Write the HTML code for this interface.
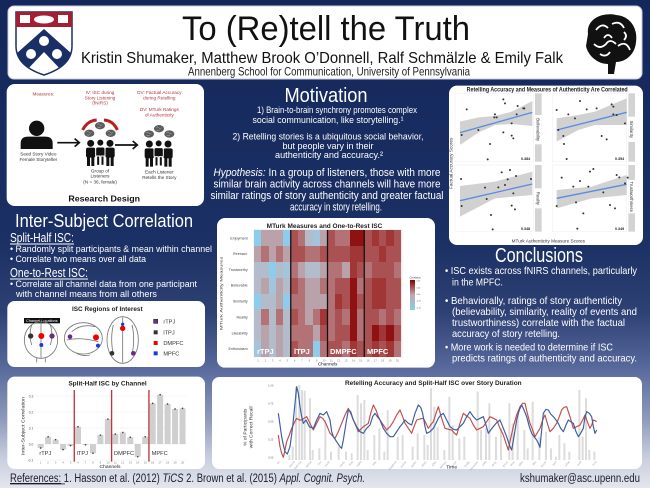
<!DOCTYPE html>
<html><head><meta charset="utf-8">
<style>
html,body{margin:0;padding:0;}
body{width:650px;height:488px;position:relative;overflow:hidden;font-family:"Liberation Sans",sans-serif;background:#13275b;}
svg{position:absolute;left:0;top:0;}
.hm{position:absolute;left:254px;top:230px;width:147px;height:127px;display:grid;grid-template-columns:repeat(20,1fr);grid-template-rows:repeat(8,1fr);}
.hm i{display:block;}
.c0{background:#8fcbea}.c1{background:#a4c4dc}.c2{background:#b2bccb}.c3{background:#b9a2aa}
.c4{background:#b37276}.c5{background:#aa5253}.c6{background:#a03636}.c7{background:#8e1212}
</style></head><body>
<svg width="650" height="488" viewBox="0 0 650 488" font-family="Liberation Sans, sans-serif">
<defs>
<linearGradient id="bg" x1="0" y1="0" x2="0" y2="1">
<stop offset="0" stop-color="#13275b"/><stop offset="0.5" stop-color="#1b3064"/><stop offset="0.64" stop-color="#2e4175"/>
<stop offset="0.75" stop-color="#56679a"/><stop offset="0.86" stop-color="#8f9bbb"/><stop offset="0.94" stop-color="#c9cfdd"/><stop offset="1" stop-color="#e3e6ee"/>
</linearGradient>
<linearGradient id="cb" x1="0" y1="0" x2="0" y2="1"><stop offset="0" stop-color="#8b0000"/><stop offset="0.5" stop-color="#c0a8b0"/><stop offset="1" stop-color="#87ceeb"/></linearGradient>
<clipPath id="sh"><path d="M16,12 H72 V46 Q72,66 44,75 Q16,66 16,46 Z"/></clipPath>
<g id="pp"><circle cx="0" cy="0" r="10.5"/><rect x="-14" y="13" width="28" height="30" rx="6"/><rect x="-11" y="40" width="9" height="28"/><rect x="2" y="40" width="9" height="28"/></g>
<g id="bb"><ellipse rx="15" ry="11" fill="#5c5c5c"/><path d="M-9,-3 q4,-5 8,0 q4,5 8,0 M-8,4 q5,3 10,0" stroke="#bbb" stroke-width="1.5" fill="none"/></g>
</defs>
<rect width="650" height="488" fill="url(#bg)"/>

<!-- HEADER -->
<rect x="8" y="6" width="634" height="73" rx="6" fill="#fff" stroke="#c8cedc"/>
<path d="M16,12 H72 V46 Q72,66 44,75 Q16,66 16,46 Z" fill="#fff" stroke="#1a2f66" stroke-width="1.5"/>
<g clip-path="url(#sh)">
<rect x="16" y="12" width="56" height="15" fill="#a31f34"/>
<rect x="20" y="15" width="10" height="8" fill="#fff"/><rect x="58" y="15" width="10" height="8" fill="#fff"/>
<ellipse cx="44" cy="19.5" rx="10" ry="4" fill="#fff"/>
<polygon points="16,54 44,29 72,54 72,66 63,72 44,52 25,72 16,66" fill="#1a2f66"/>
<circle cx="44" cy="41" r="5" fill="#fff"/><circle cx="31" cy="54" r="5" fill="#fff"/><circle cx="57" cy="54" r="5" fill="#fff"/>
</g>
<text x="182" y="40" font-size="34" textLength="288" lengthAdjust="spacingAndGlyphs" fill="#111">To (Re)tell the Truth</text>
<text x="81" y="63" font-size="16" textLength="482" lengthAdjust="spacingAndGlyphs" fill="#111">Kristin Shumaker, Matthew Brook O’Donnell, Ralf Schmälzle &amp; Emily Falk</text>
<text x="188" y="75.5" font-size="12" textLength="282" lengthAdjust="spacingAndGlyphs" fill="#222">Annenberg School for Communication, University of Pennsylvania</text>
<g transform="translate(610,42)">
<path d="M-22,-8 C-24,-24 -6,-30 6,-27 C20,-26 28,-14 26,0 C25,12 16,20 6,20 L4,32 L-2,32 L-2,22 C-12,22 -22,14 -24,4 Z" fill="#111"/>
<path d="M-14,-12 q6,-8 12,-2 M2,-18 q8,-4 12,4 M-16,2 q6,6 12,0 q4,-6 10,0 M8,4 q8,-6 12,4 M-6,-4 q4,-6 8,0 M-10,12 q6,4 10,-2 M14,-10 q4,4 0,8" stroke="#fff" stroke-width="1.8" fill="none"/>
</g>

<!-- RESEARCH DESIGN -->
<g transform="translate(0,80) scale(0.33333)">
<rect x="20" y="12" width="592" height="366" rx="24" fill="#fff"/>
<g font-size="14" fill="#b03a3a" text-anchor="middle">
<text x="130" y="47">Measures:</text>
<text x="300" y="42">IV: ISC during</text><text x="300" y="58">Story Listening</text><text x="300" y="74">(fNIRS)</text>
<text x="478" y="42">DV: Factual Accuracy</text><text x="478" y="58">during Retelling</text>
<text x="478" y="93">DV: MTurk Ratings</text><text x="478" y="109">of Authenticity</text>
</g>
<circle cx="110" cy="145" r="23" fill="#111"/>
<path d="M62,207 V190 Q62,170 85,170 H135 Q158,170 158,190 V207 Z" fill="#111"/>
<g font-size="14" fill="#333" text-anchor="middle">
<text x="115" y="226">Seed Story Video</text><text x="115" y="243">Female Storyteller</text>
<text x="300" y="277">Group of</text><text x="300" y="293">Listeners</text><text x="300" y="311">(N = 36, female)</text>
<text x="478" y="280">Each Listener</text><text x="478" y="297">Retells the Story</text>
</g>
<g stroke="#111" stroke-width="5" fill="none">
<line x1="172" y1="188" x2="236" y2="188"/><polyline points="224,176 238,188 224,200"/>
<line x1="345" y1="195" x2="410" y2="195"/><polyline points="398,183 412,195 398,207"/>
</g>
<use href="#pp" x="272" y="190" fill="#111"/><use href="#pp" x="330" y="190" fill="#111"/>
<use href="#pp" x="301" y="188" fill="#111" stroke="#fff" stroke-width="3"/>
<use href="#pp" x="448" y="192" fill="#111"/><use href="#pp" x="504" y="192" fill="#111"/>
<use href="#pp" x="476" y="190" fill="#111" stroke="#fff" stroke-width="3"/>
<use href="#bb" x="268" y="160"/><use href="#bb" x="300" y="137"/><use href="#bb" x="332" y="160"/>
<use href="#bb" x="447" y="162"/><use href="#bb" x="477" y="146"/><use href="#bb" x="508" y="162"/>
<path d="M248,150 Q262,122 290,120 M312,120 Q340,122 352,150" stroke="#b82020" stroke-width="9" fill="none"/>
<text x="205" y="364" font-size="25" font-weight="bold" fill="#111" textLength="215" lengthAdjust="spacingAndGlyphs">Research Design</text>
</g>

<!-- ISC TEXT -->
<g fill="#fff">
<text x="15" y="227" font-size="18" textLength="178" lengthAdjust="spacingAndGlyphs">Inter-Subject Correlation</text>
<text x="10" y="242" font-size="13" textLength="64" lengthAdjust="spacingAndGlyphs">Split-Half ISC:</text>
<rect x="10" y="243.5" width="64" height="1"/>
<text x="10" y="252" font-size="9.5" textLength="202" lengthAdjust="spacingAndGlyphs">• Randomly split participants &amp; mean within channel</text>
<text x="10" y="262" font-size="9.5" textLength="136" lengthAdjust="spacingAndGlyphs">• Correlate two means over all data</text>
<text x="10" y="277" font-size="13" textLength="78" lengthAdjust="spacingAndGlyphs">One-to-Rest ISC:</text>
<rect x="10" y="278.5" width="78" height="1"/>
<text x="10" y="287" font-size="9.5" textLength="187" lengthAdjust="spacingAndGlyphs">• Correlate all channel data from one participant</text>
<text x="16" y="297" font-size="9.5" textLength="141" lengthAdjust="spacingAndGlyphs">with channel means from all others</text>
</g>

<!-- ISC REGIONS -->
<g transform="translate(0,225) scale(0.33333)">
<rect x="22" y="228" width="593" height="198" rx="22" fill="#fff"/>
<text x="216" y="258" font-size="18" font-weight="bold" fill="#222" textLength="212" lengthAdjust="spacingAndGlyphs">ISC Regions of Interest</text>
<rect x="72" y="279" width="108" height="16" fill="#111"/>
<text x="78" y="291" font-size="10" fill="#fff" textLength="95" lengthAdjust="spacingAndGlyphs">Channel Locations</text>
<g fill="none" stroke="#777" stroke-width="2.5">
<ellipse cx="123" cy="345" rx="50" ry="55"/><path d="M123,292 V398 M95,300 q-10,30 0,60 M151,300 q10,30 0,60 M110,400 v12 M136,400 v12"/>
<ellipse cx="250" cy="340" rx="57" ry="47"/><path d="M200,345 q40,-10 95,5 M215,320 q30,-25 70,-15 M230,385 q20,10 40,5"/>
<ellipse cx="368" cy="345" rx="47" ry="70"/><path d="M368,277 V413 M340,300 q-10,40 0,90 M396,300 q10,40 0,90"/>
</g>
<circle cx="92" cy="333" r="8" fill="#333"/><circle cx="124" cy="333" r="9" fill="#e00"/><circle cx="156" cy="333" r="8" fill="#6a2a8a"/><circle cx="124" cy="360" r="6" fill="#1a3adf"/>
<circle cx="210" cy="335" r="7" fill="#6a2a8a"/><circle cx="288" cy="337" r="9" fill="#e00"/><circle cx="294" cy="362" r="6" fill="#1a3adf"/>
<circle cx="368" cy="298" r="5" fill="#1a3adf"/><circle cx="368" cy="310" r="8" fill="#e00"/><circle cx="336" cy="385" r="7" fill="#333"/><circle cx="400" cy="385" r="7" fill="#6a2a8a"/>
<rect x="461" y="283" width="12" height="12" fill="#6a2a8a" stroke="#333" stroke-width="2"/>
<rect x="461" y="316" width="12" height="12" fill="#333"/>
<rect x="461" y="348" width="12" height="12" fill="#e00"/>
<rect x="461" y="379" width="12" height="12" fill="#1a3adf"/>
<g font-size="17" fill="#333"><text x="490" y="295">rTPJ</text><text x="490" y="328">lTPJ</text><text x="490" y="360">DMPFC</text><text x="490" y="391">MPFC</text></g>
</g>

<!-- MOTIVATION -->
<g fill="#fff" text-anchor="middle">
<text x="326" y="102" font-size="20" textLength="83" lengthAdjust="spacingAndGlyphs">Motivation</text>
<text x="337" y="113" font-size="9.5" textLength="160" lengthAdjust="spacingAndGlyphs">1) Brain-to-brain synchrony promotes complex</text>
<text x="328" y="123" font-size="9.5" textLength="151" lengthAdjust="spacingAndGlyphs">social communication, like storytelling.¹</text>
<text x="328" y="139.5" font-size="9.5" textLength="191" lengthAdjust="spacingAndGlyphs">2) Retelling stories is a ubiquitous social behavior,</text>
<text x="328" y="149" font-size="9.5" textLength="91" lengthAdjust="spacingAndGlyphs">but people vary in their</text>
<text x="329" y="158" font-size="9.5" textLength="108" lengthAdjust="spacingAndGlyphs">authenticity and accuracy.²</text>
<text x="327" y="176" font-size="11" textLength="227" lengthAdjust="spacingAndGlyphs"><tspan font-style="italic">Hypothesis:</tspan> In a group of listeners, those with more</text>
<text x="327" y="187.5" font-size="11" textLength="227" lengthAdjust="spacingAndGlyphs">similar brain activity across channels will have more</text>
<text x="327" y="199" font-size="11" textLength="233" lengthAdjust="spacingAndGlyphs">similar ratings of story authenticity and greater factual</text>
<text x="336" y="210.5" font-size="11" textLength="92" lengthAdjust="spacingAndGlyphs">accuracy in story retelling.</text>
</g>

<!-- HEATMAP BOX -->
<g transform="translate(225,210) scale(0.33333)">
<rect x="-24" y="24" width="654" height="449" rx="24" fill="#fff"/>
<text x="125" y="54" font-size="20" font-weight="bold" fill="#222" textLength="347" lengthAdjust="spacingAndGlyphs">MTurk Measures and One-to-Rest ISC</text>
<rect x="86" y="58" width="446" height="384" fill="#ebebeb"/>
<g font-size="11" fill="#444" text-anchor="end">
<text x="68" y="88">Enjoyment</text><text x="68" y="135">Reenact.</text><text x="68" y="183">Trustworthy</text><text x="68" y="230">Believable</text>
<text x="68" y="278">Similarity</text><text x="68" y="325">Reality</text><text x="68" y="373">Likeability</text><text x="68" y="420">Enthusiasm</text>
</g>
<text transform="translate(-8,250) rotate(-90)" font-size="12" fill="#333" text-anchor="middle" textLength="220" lengthAdjust="spacingAndGlyphs">MTurk Authenticity Measures</text>
<g font-size="8" fill="#777" text-anchor="middle">
<text x="99" y="454">1</text><text x="121" y="454">2</text><text x="143" y="454">3</text><text x="165" y="454">4</text><text x="187" y="454">5</text>
<text x="209" y="454">6</text><text x="231" y="454">7</text><text x="253" y="454">8</text><text x="275" y="454">9</text><text x="297" y="454">10</text>
<text x="319" y="454">11</text><text x="341" y="454">12</text><text x="363" y="454">13</text><text x="385" y="454">14</text><text x="407" y="454">15</text>
<text x="429" y="454">16</text><text x="451" y="454">17</text><text x="473" y="454">18</text><text x="495" y="454">19</text><text x="517" y="454">20</text>
</g>
<text x="308" y="467" font-size="14" fill="#222" text-anchor="middle">Channels</text>
<text x="553" y="205" font-size="7" fill="#444">Correlation</text>
<rect x="555" y="210" width="15" height="90" fill="url(#cb)"/>
<g font-size="6" fill="#555"><text x="574" y="215">0.40</text><text x="574" y="235">0.20</text><text x="574" y="255">0.00</text><text x="574" y="275">-0.20</text><text x="574" y="295">-0.40</text></g>
</g>

<!-- SCATTER BOX -->
<g transform="translate(445,80) scale(0.33333)">
<rect x="12" y="17" width="582" height="478" rx="24" fill="#fff"/>
<text x="65" y="34" font-size="18" font-weight="bold" fill="#222" textLength="483" lengthAdjust="spacingAndGlyphs">Retelling Accuracy and Measures of Authenticity Are Correlated</text>
<g fill="#fff" stroke="#ececec" stroke-width="1.5">
<rect x="30" y="40" width="235" height="205"/><rect x="322" y="40" width="223" height="205"/>
<rect x="30" y="255" width="235" height="200"/><rect x="322" y="255" width="223" height="200"/>
</g>
<g fill="#d3d3d3">
<rect x="270" y="40" width="20" height="205"/><rect x="550" y="40" width="20" height="205"/>
<rect x="270" y="255" width="20" height="200"/><rect x="550" y="255" width="20" height="200"/>
</g>
<g fill="#fff"><rect x="270" y="105" width="20" height="88"/><rect x="550" y="110" width="20" height="76"/><rect x="270" y="325" width="20" height="60"/><rect x="550" y="300" width="20" height="100"/></g>
<g font-size="13" fill="#333" text-anchor="middle">
<text transform="translate(275,149) rotate(90)">Believability</text>
<text transform="translate(555,148) rotate(90)">Similarity</text>
<text transform="translate(275,355) rotate(90)">Reality</text>
<text transform="translate(555,350) rotate(90)">Trustworthiness</text>
</g>
<g fill="#c9c9c9" fill-opacity="0.85">
<polygon points="45,125 100,112 150,108 200,95 262,63 262,138 200,132 150,135 100,158 45,195"/>
<polygon points="335,115 400,105 450,95 545,55 545,135 450,135 400,150 335,185"/>
<polygon points="45,318 150,305 262,275 262,345 150,355 45,410"/>
<polygon points="335,330 440,320 545,285 545,345 440,355 335,385"/>
</g>
<g stroke="#5b8be0" stroke-width="4">
<line x1="45" y1="158" x2="262" y2="97"/><line x1="335" y1="150" x2="545" y2="97"/>
<line x1="45" y1="362" x2="262" y2="312"/><line x1="335" y1="355" x2="545" y2="313"/>
</g>
<g fill="#333">
<circle cx="65" cy="88" r="3"/><circle cx="175" cy="58" r="3"/><circle cx="180" cy="70" r="3"/><circle cx="150" cy="103" r="3"/><circle cx="148" cy="112" r="3"/><circle cx="155" cy="112" r="3"/><circle cx="218" cy="78" r="3"/><circle cx="235" cy="85" r="3"/><circle cx="238" cy="85" r="3"/><circle cx="215" cy="103" r="3"/><circle cx="100" cy="150" r="3"/><circle cx="200" cy="130" r="3"/><circle cx="175" cy="157" r="3"/><circle cx="200" cy="167" r="3"/><circle cx="205" cy="175" r="3"/><circle cx="135" cy="192" r="3"/><circle cx="128" cy="238" r="3"/><circle cx="50" cy="165" r="3"/>
<circle cx="335" cy="90" r="3"/><circle cx="405" cy="63" r="3"/><circle cx="500" cy="73" r="3"/><circle cx="505" cy="80" r="3"/><circle cx="505" cy="103" r="3"/><circle cx="515" cy="105" r="3"/><circle cx="370" cy="103" r="3"/><circle cx="390" cy="115" r="3"/><circle cx="425" cy="88" r="3"/><circle cx="455" cy="85" r="3"/><circle cx="340" cy="150" r="3"/><circle cx="355" cy="168" r="3"/><circle cx="470" cy="168" r="3"/><circle cx="485" cy="178" r="3"/><circle cx="357" cy="192" r="3"/><circle cx="365" cy="237" r="3"/><circle cx="540" cy="130" r="3"/>
<circle cx="48" cy="297" r="3"/><circle cx="170" cy="277" r="3"/><circle cx="195" cy="270" r="3"/><circle cx="188" cy="298" r="3"/><circle cx="213" cy="288" r="3"/><circle cx="120" cy="323" r="3"/><circle cx="160" cy="322" r="3"/><circle cx="125" cy="357" r="3"/><circle cx="205" cy="340" r="3"/><circle cx="180" cy="315" r="3"/><circle cx="138" cy="405" r="3"/><circle cx="50" cy="378" r="3"/><circle cx="200" cy="377" r="3"/><circle cx="210" cy="388" r="3"/><circle cx="143" cy="448" r="3"/><circle cx="258" cy="297" r="3"/>
<circle cx="350" cy="293" r="3"/><circle cx="405" cy="303" r="3"/><circle cx="385" cy="320" r="3"/><circle cx="435" cy="275" r="3"/><circle cx="445" cy="267" r="3"/><circle cx="430" cy="320" r="3"/><circle cx="475" cy="337" r="3"/><circle cx="515" cy="285" r="3"/><circle cx="523" cy="292" r="3"/><circle cx="540" cy="310" r="3"/><circle cx="548" cy="293" r="3"/><circle cx="393" cy="367" r="3"/><circle cx="495" cy="375" r="3"/><circle cx="510" cy="385" r="3"/><circle cx="415" cy="400" r="3"/><circle cx="335" cy="378" r="3"/><circle cx="397" cy="446" r="3"/>
</g>
<g font-size="11" font-weight="bold" fill="#222"><text x="228" y="240">0.384</text><text x="510" y="240">0.354</text><text x="228" y="450">0.348</text><text x="510" y="450">0.349</text></g>
<text transform="translate(22,250) rotate(-90)" font-size="14" fill="#333" text-anchor="middle">Factual Accuracy Scores</text>
<text x="310" y="487" font-size="14" fill="#333" text-anchor="middle">MTurk Authenticity Measure Scores</text>
</g>

<!-- CONCLUSIONS -->
<g fill="#fff">
<text x="539" y="262" font-size="20" text-anchor="middle" textLength="88" lengthAdjust="spacingAndGlyphs">Conclusions</text>
<text x="445" y="274" font-size="10.5" textLength="192" lengthAdjust="spacingAndGlyphs">• ISC exists across fNIRS channels, particularly</text>
<text x="452" y="285.5" font-size="10.5" textLength="51" lengthAdjust="spacingAndGlyphs">in the MPFC.</text>
<text x="445" y="304" font-size="10.5" textLength="177" lengthAdjust="spacingAndGlyphs">• Behaviorally, ratings of story authenticity</text>
<text x="452" y="315" font-size="10.5" textLength="185" lengthAdjust="spacingAndGlyphs">(believability, similarity, reality of events and</text>
<text x="452" y="326" font-size="10.5" textLength="173" lengthAdjust="spacingAndGlyphs">trustworthiness) correlate with the factual</text>
<text x="452" y="337" font-size="10.5" textLength="108" lengthAdjust="spacingAndGlyphs">accuracy of story retelling.</text>
<text x="445" y="350.5" font-size="10.5" textLength="168" lengthAdjust="spacingAndGlyphs">• More work is needed to determine if ISC</text>
<text x="452" y="361.5" font-size="10.5" textLength="185" lengthAdjust="spacingAndGlyphs">predicts ratings of authenticity and accuracy.</text>
</g>

<!-- BAR CHART -->
<g transform="translate(0,370) scale(0.33333)">
<rect x="22" y="20" width="593" height="277" rx="22" fill="#fff"/>
<text x="205" y="46" font-size="19" font-weight="bold" fill="#222" textLength="235" lengthAdjust="spacingAndGlyphs">Split-Half ISC by Channel</text>
<g stroke="#ececec" stroke-width="1.5">
<line x1="108" y1="78" x2="560" y2="78"/><line x1="108" y1="126" x2="560" y2="126"/><line x1="108" y1="174" x2="560" y2="174"/><line x1="108" y1="222" x2="560" y2="222"/><line x1="108" y1="270" x2="560" y2="270"/>
</g>
<g font-size="10" fill="#555" text-anchor="end"><text x="100" y="82">0.3</text><text x="100" y="130">0.2</text><text x="100" y="178">0.1</text><text x="100" y="226">0.0</text><text x="100" y="274">-0.1</text></g>
<g fill="#cfcfcf">
<rect x="113" y="222" width="18" height="12"/><rect x="135.4" y="200.4" width="18" height="21.6"/><rect x="157.8" y="209" width="18" height="13"/><rect x="180.2" y="222" width="18" height="16.8"/><rect x="202.6" y="222" width="18" height="4.8"/>
<rect x="225" y="170.2" width="18" height="51.8"/><rect x="247.4" y="222" width="18" height="2.4"/><rect x="269.8" y="222" width="18" height="27.8"/><rect x="292.2" y="195.1" width="18" height="26.9"/><rect x="314.6" y="147.1" width="18" height="74.9"/>
<rect x="337" y="192.2" width="18" height="29.8"/><rect x="359.4" y="187.4" width="18" height="34.6"/><rect x="381.8" y="201.8" width="18" height="20.2"/><rect x="404.2" y="222" width="18" height="38.4"/><rect x="426.6" y="200.4" width="18" height="21.6"/>
<rect x="449" y="100.1" width="18" height="121.9"/><rect x="471.4" y="74.2" width="18" height="147.8"/><rect x="493.8" y="102" width="18" height="120"/><rect x="516.2" y="116.9" width="18" height="105.1"/><rect x="538.6" y="115" width="18" height="107"/>
</g>
<g fill="#444">
<circle cx="122" cy="234" r="2.5"/><circle cx="144.4" cy="200.4" r="2.5"/><circle cx="166.8" cy="209" r="2.5"/><circle cx="189.2" cy="238.8" r="2.5"/><circle cx="211.6" cy="226.8" r="2.5"/>
<circle cx="234" cy="170.2" r="2.5"/><circle cx="256.4" cy="224.4" r="2.5"/><circle cx="278.8" cy="249.8" r="2.5"/><circle cx="301.2" cy="195.1" r="2.5"/><circle cx="323.6" cy="147.1" r="2.5"/>
<circle cx="346" cy="192.2" r="2.5"/><circle cx="368.4" cy="187.4" r="2.5"/><circle cx="390.8" cy="201.8" r="2.5"/><circle cx="413.2" cy="260.4" r="2.5"/><circle cx="435.6" cy="200.4" r="2.5"/>
<circle cx="458" cy="100.1" r="2.5"/><circle cx="480.4" cy="74.2" r="2.5"/><circle cx="502.8" cy="102" r="2.5"/><circle cx="525.2" cy="116.9" r="2.5"/><circle cx="547.6" cy="115" r="2.5"/>
</g>
<g stroke="#c0333f" stroke-width="4"><line x1="222.8" y1="60" x2="222.8" y2="275"/><line x1="334.8" y1="60" x2="334.8" y2="275"/><line x1="446.8" y1="60" x2="446.8" y2="275"/></g>
<g font-size="17" fill="#333"><text x="118" y="255">rTPJ</text><text x="230" y="255">lTPJ</text><text x="342" y="255">DMPFC</text><text x="455" y="255">MPFC</text></g>
<g font-size="8" fill="#777" text-anchor="middle">
<text x="122" y="281">1</text><text x="144" y="281">2</text><text x="167" y="281">3</text><text x="189" y="281">4</text><text x="212" y="281">5</text><text x="234" y="281">6</text><text x="256" y="281">7</text><text x="279" y="281">8</text><text x="301" y="281">9</text><text x="324" y="281">10</text>
<text x="346" y="281">11</text><text x="368" y="281">12</text><text x="391" y="281">13</text><text x="413" y="281">14</text><text x="436" y="281">15</text><text x="458" y="281">16</text><text x="480" y="281">17</text><text x="503" y="281">18</text><text x="525" y="281">19</text><text x="548" y="281">20</text>
</g>
<text x="330" y="294" font-size="15" fill="#222" text-anchor="middle">Channels</text>
<text transform="translate(74,168) rotate(-90)" font-size="15" fill="#333" text-anchor="middle" textLength="175" lengthAdjust="spacingAndGlyphs">Inter-Subject Correlation</text>
</g>

<!-- TIME SERIES -->
<g transform="translate(230,370) scale(0.33333)">
<rect x="-54" y="21" width="1290" height="276" rx="22" fill="#fff"/>
<text x="345" y="45" font-size="19" font-weight="bold" fill="#222" textLength="530" lengthAdjust="spacingAndGlyphs">Retelling Accuracy and Split-Half ISC over Story Duration</text>
<g font-size="8" fill="#666" text-anchor="end"><text x="130" y="50">1.00</text><text x="130" y="104">0.75</text><text x="130" y="158">0.50</text><text x="130" y="212">0.25</text><text x="130" y="266">0.00</text></g>
<text transform="translate(50,172) rotate(-90)" font-size="15" fill="#333" text-anchor="middle">% of Participants</text>
<text transform="translate(68,172) rotate(-90)" font-size="15" fill="#333" text-anchor="middle">with Correct Recall</text>
<g fill="#d6d6d6" fill-opacity="0.85">
<rect x="175" y="255" width="6" height="15"/><rect x="185" y="230" width="6" height="40"/><rect x="195" y="50" width="6" height="220"/><rect x="205" y="45" width="6" height="225"/><rect x="213" y="60" width="6" height="210"/><rect x="221" y="62" width="6" height="208"/><rect x="237" y="85" width="6" height="185"/><rect x="245" y="240" width="6" height="30"/><rect x="265" y="235" width="6" height="35"/><rect x="283" y="150" width="6" height="120"/>
<rect x="300" y="245" width="6" height="25"/><rect x="323" y="230" width="6" height="40"/><rect x="345" y="245" width="6" height="25"/><rect x="362" y="250" width="6" height="20"/><rect x="380" y="75" width="6" height="195"/><rect x="390" y="100" width="6" height="170"/><rect x="400" y="90" width="6" height="180"/><rect x="410" y="240" width="6" height="30"/><rect x="430" y="195" width="6" height="75"/><rect x="445" y="175" width="6" height="95"/>
<rect x="460" y="245" width="6" height="25"/><rect x="470" y="120" width="6" height="150"/><rect x="500" y="200" width="6" height="70"/><rect x="515" y="195" width="6" height="75"/><rect x="545" y="230" width="6" height="40"/><rect x="560" y="190" width="6" height="80"/><rect x="580" y="195" width="6" height="75"/><rect x="590" y="225" width="6" height="45"/><rect x="600" y="55" width="6" height="215"/><rect x="610" y="110" width="6" height="160"/>
<rect x="620" y="170" width="6" height="100"/><rect x="640" y="240" width="6" height="30"/><rect x="655" y="80" width="6" height="190"/><rect x="665" y="165" width="6" height="105"/><rect x="685" y="205" width="6" height="65"/><rect x="700" y="200" width="6" height="70"/><rect x="740" y="65" width="6" height="205"/><rect x="750" y="180" width="6" height="90"/><rect x="765" y="175" width="6" height="95"/><rect x="775" y="100" width="6" height="170"/>
<rect x="795" y="200" width="6" height="70"/><rect x="810" y="175" width="6" height="95"/><rect x="835" y="100" width="6" height="170"/><rect x="845" y="160" width="6" height="110"/><rect x="860" y="130" width="6" height="140"/><rect x="880" y="180" width="6" height="90"/><rect x="890" y="235" width="6" height="35"/><rect x="905" y="95" width="6" height="175"/><rect x="925" y="200" width="6" height="70"/><rect x="945" y="185" width="6" height="85"/>
<rect x="960" y="235" width="6" height="35"/><rect x="975" y="260" width="6" height="10"/><rect x="985" y="195" width="6" height="75"/><rect x="1000" y="220" width="6" height="50"/><rect x="1015" y="245" width="6" height="25"/><rect x="1045" y="60" width="6" height="210"/><rect x="1055" y="200" width="6" height="70"/><rect x="1065" y="85" width="6" height="185"/><rect x="1075" y="240" width="6" height="30"/><rect x="1090" y="245" width="6" height="25"/>
</g>
<polyline fill="none" stroke="#c0504d" stroke-width="3.5" stroke-linejoin="round" points="145,195 150,230 155,250 160,262 165,240 170,215 178,195 185,175 192,160 200,145 208,150 215,150 222,145 230,140 240,160 250,180 260,160 270,140 278,145 285,155 292,170 300,190 308,198 315,205 325,185 335,160 345,135 355,115 362,130 370,150 378,168 385,185 392,178 400,170 408,165 415,160 422,130 430,105 438,120 445,140 450,150 460,165 470,180 480,170 490,155 500,135 510,120 518,140 525,160 535,175 545,190 552,170 560,150 570,147 580,145 588,160 595,175 602,165 610,155 618,130 625,110 635,145 645,175 655,178 665,180 672,188 680,195 690,160 700,130 710,138 720,145 730,165 740,180 750,175 760,170 770,155 780,140 790,145 800,150 810,175 820,195 828,220 835,240 842,205 850,170 860,135 870,110 878,100 885,100 892,130 900,160 908,180 915,200 922,188 930,175 938,150 945,135 952,160 960,185 970,175 980,160 988,140 995,120 1002,112 1010,110 1020,140 1030,175 1040,170 1050,165 1058,150 1065,135 1072,155 1080,175 1085,165 1090,150 1095,152 1100,155"/>
<polyline fill="none" stroke="#3b5fa0" stroke-width="3.5" stroke-linejoin="round" points="145,130 150,165 155,200 160,225 165,245 172,252 180,230 188,170 195,100 200,50 205,70 210,110 215,140 220,160 228,150 238,170 250,175 260,150 270,130 280,135 290,125 300,150 305,185 310,200 320,215 330,230 335,235 340,210 348,160 355,120 362,125 370,150 380,170 390,185 400,190 410,175 420,165 428,140 435,130 442,140 450,150 460,175 470,190 480,200 490,200 500,185 510,170 518,160 525,150 535,160 545,165 555,130 565,105 572,112 578,130 585,170 590,190 600,185 610,175 618,160 625,145 632,135 640,130 650,150 660,170 670,178 680,180 690,170 700,160 710,140 720,125 730,140 740,150 750,145 760,140 768,165 775,190 782,180 790,170 800,158 810,150 820,175 830,200 838,225 845,240 852,200 860,150 868,120 875,105 882,120 890,140 898,170 905,190 912,200 920,210 925,220 930,232 935,180 940,130 948,118 955,120 962,132 970,140 978,150 985,160 992,175 1000,185 1008,165 1015,150 1022,155 1030,160 1038,185 1045,200 1052,190 1060,175 1065,140 1070,125 1078,130 1085,140 1090,170 1095,190 1100,180"/>
<g font-size="9" fill="#aaa" text-anchor="end">
<text transform="translate(150,276) rotate(-50)">so</text><text transform="translate(195,276) rotate(-50)">friend</text><text transform="translate(215,276) rotate(-50)">told me</text><text transform="translate(245,276) rotate(-50)">about</text><text transform="translate(275,276) rotate(-50)">her</text><text transform="translate(300,276) rotate(-50)">went</text>
<text transform="translate(345,276) rotate(-50)">party</text><text transform="translate(370,276) rotate(-50)">that</text><text transform="translate(395,276) rotate(-50)">night</text><text transform="translate(440,276) rotate(-50)">late</text><text transform="translate(500,276) rotate(-50)">laughed</text><text transform="translate(530,276) rotate(-50)">home</text>
<text transform="translate(560,276) rotate(-50)">again</text><text transform="translate(590,276) rotate(-50)">story</text><text transform="translate(620,276) rotate(-50)">after</text><text transform="translate(650,276) rotate(-50)">always</text><text transform="translate(680,276) rotate(-50)">never</text><text transform="translate(720,276) rotate(-50)">really</text>
<text transform="translate(745,276) rotate(-50)">because</text><text transform="translate(770,276) rotate(-50)">said</text><text transform="translate(800,276) rotate(-50)">okay</text><text transform="translate(835,276) rotate(-50)">there</text><text transform="translate(855,276) rotate(-50)">time</text><text transform="translate(880,276) rotate(-50)">also</text>
<text transform="translate(920,276) rotate(-50)">like</text><text transform="translate(950,276) rotate(-50)">know</text><text transform="translate(980,276) rotate(-50)">just</text><text transform="translate(1020,276) rotate(-50)">what</text><text transform="translate(1055,276) rotate(-50)">well</text><text transform="translate(1100,276) rotate(-50)">end</text>
</g>
<text x="665" y="295" font-size="15" fill="#222" text-anchor="middle">Time</text>
</g>

<!-- REFERENCES -->
<text x="10" y="482" font-size="11.5" fill="#1c1c2c" textLength="355" lengthAdjust="spacingAndGlyphs"><tspan text-decoration="underline">References:</tspan> 1. Hasson et al. (2012) <tspan font-style="italic">TiCS</tspan>    2. Brown et al. (2015) <tspan font-style="italic">Appl. Cognit. Psych.</tspan></text>
<rect x="10" y="483.5" width="55" height="0.8" fill="#1c1c2c"/>
<text x="520" y="482" font-size="11.5" fill="#1c1c2c" textLength="120" lengthAdjust="spacingAndGlyphs">kshumaker@asc.upenn.edu</text>
</svg>

<div class="hm">
<i class="c0"></i><i class="c3"></i><i class="c3"></i><i class="c3"></i><i class="c0"></i><i class="c5"></i><i class="c4"></i><i class="c2"></i><i class="c1"></i><i class="c3"></i><i class="c5"></i><i class="c4"></i><i class="c4"></i><i class="c7"></i><i class="c7"></i><i class="c5"></i><i class="c6"></i><i class="c5"></i><i class="c6"></i><i class="c5"></i>
<i class="c3"></i><i class="c4"></i><i class="c3"></i><i class="c4"></i><i class="c3"></i><i class="c5"></i><i class="c5"></i><i class="c4"></i><i class="c4"></i><i class="c5"></i><i class="c5"></i><i class="c5"></i><i class="c5"></i><i class="c6"></i><i class="c6"></i><i class="c5"></i><i class="c5"></i><i class="c6"></i><i class="c5"></i><i class="c5"></i>
<i class="c2"></i><i class="c2"></i><i class="c0"></i><i class="c2"></i><i class="c1"></i><i class="c4"></i><i class="c3"></i><i class="c2"></i><i class="c2"></i><i class="c3"></i><i class="c4"></i><i class="c4"></i><i class="c3"></i><i class="c6"></i><i class="c5"></i><i class="c4"></i><i class="c5"></i><i class="c5"></i><i class="c5"></i><i class="c4"></i>
<i class="c2"></i><i class="c3"></i><i class="c1"></i><i class="c3"></i><i class="c2"></i><i class="c5"></i><i class="c4"></i><i class="c3"></i><i class="c3"></i><i class="c4"></i><i class="c4"></i><i class="c5"></i><i class="c5"></i><i class="c7"></i><i class="c4"></i><i class="c5"></i><i class="c6"></i><i class="c6"></i><i class="c5"></i><i class="c5"></i>
<i class="c0"></i><i class="c2"></i><i class="c2"></i><i class="c3"></i><i class="c0"></i><i class="c4"></i><i class="c4"></i><i class="c3"></i><i class="c3"></i><i class="c3"></i><i class="c4"></i><i class="c6"></i><i class="c5"></i><i class="c7"></i><i class="c5"></i><i class="c5"></i><i class="c6"></i><i class="c6"></i><i class="c5"></i><i class="c5"></i>
<i class="c2"></i><i class="c4"></i><i class="c2"></i><i class="c4"></i><i class="c2"></i><i class="c5"></i><i class="c4"></i><i class="c3"></i><i class="c4"></i><i class="c6"></i><i class="c4"></i><i class="c5"></i><i class="c4"></i><i class="c7"></i><i class="c4"></i><i class="c5"></i><i class="c5"></i><i class="c4"></i><i class="c5"></i><i class="c4"></i>
<i class="c2"></i><i class="c3"></i><i class="c2"></i><i class="c3"></i><i class="c2"></i><i class="c4"></i><i class="c4"></i><i class="c4"></i><i class="c3"></i><i class="c5"></i><i class="c4"></i><i class="c5"></i><i class="c5"></i><i class="c7"></i><i class="c4"></i><i class="c5"></i><i class="c7"></i><i class="c6"></i><i class="c7"></i><i class="c5"></i>
<i class="c1"></i><i class="c3"></i><i class="c2"></i><i class="c3"></i><i class="c2"></i><i class="c5"></i><i class="c4"></i><i class="c4"></i><i class="c0"></i><i class="c4"></i><i class="c5"></i><i class="c5"></i><i class="c4"></i><i class="c6"></i><i class="c5"></i><i class="c5"></i><i class="c6"></i><i class="c5"></i><i class="c6"></i><i class="c4"></i>
</div>

<svg width="650" height="488" viewBox="0 0 650 488" font-family="Liberation Sans, sans-serif">
<g stroke="#111" stroke-width="1.3">
<line x1="290.75" y1="230" x2="290.75" y2="357"/><line x1="327.5" y1="230" x2="327.5" y2="357"/><line x1="364.25" y1="230" x2="364.25" y2="357"/>
</g>
<g font-size="7.5" font-weight="bold" fill="#fff">
<text x="257" y="354">rTPJ</text><text x="294" y="354">lTPJ</text><text x="330" y="354">DMPFC</text><text x="367" y="354">MPFC</text>
</g>
</svg>
</body></html>
